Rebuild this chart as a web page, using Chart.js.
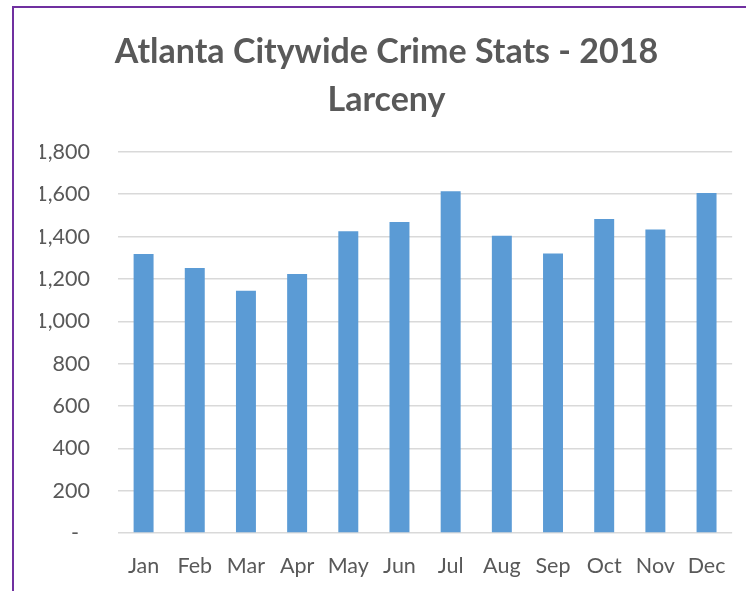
<!DOCTYPE html>
<html>
<head>
<meta charset="utf-8">
<script src="https://cdn.jsdelivr.net/npm/chart.js@4/dist/chart.umd.min.js"></script>
<style>
  html, body { margin: 0; padding: 0; background: #fff; }
  #wrap { position: relative; width: 746px; height: 591px; overflow: hidden; }
  #frame { position: absolute; left: 12px; top: 6px; width: 900px; height: 900px;
           border-left: 2px solid #7030A0; border-top: 2px solid #7030A0; }
  #box { position: absolute; left: 0; top: 0; width: 746px; height: 591px; }
</style>
</head>
<body>
<div id="wrap">
  <div id="frame"></div>
  <div id="box"><canvas id="larcenyChart"></canvas></div>
</div>
<script>
// Data
const months = ['Jan', 'Feb', 'Mar', 'Apr', 'May', 'Jun', 'Jul', 'Aug', 'Sep', 'Oct', 'Nov', 'Dec'];
const larceny = [1318, 1251, 1144, 1223, 1425, 1469, 1614, 1404, 1320, 1483, 1433, 1606];
const titleLines = ['Atlanta Citywide Crime Stats - 2018', 'Larceny'];

const FONT = 'Lato, "Open Sans", sans-serif';
const TEXT = '#595959';

new Chart(document.getElementById('larcenyChart'), {
    type: 'bar',
    data: {
        labels: months,
        datasets: [{
            label: 'Larceny',
            data: larceny,
            backgroundColor: '#5B9BD5',
            borderWidth: 0,
            barPercentage: 0.39,
            categoryPercentage: 1
        }]
    },
    options: {
        responsive: true,
        maintainAspectRatio: false,
        animation: false,
        // padding kiri supaya judul berada di tengah bingkai ungu
        layout: { padding: { left: 40, right: 13, top: 0, bottom: 0 } },
        plugins: {
            legend: { display: false },
            tooltip: { enabled: false },
            title: {
                display: true,
                text: titleLines,
                color: TEXT,
                font: { family: FONT, size: 34, weight: 'bold', lineHeight: 1.41 },
                padding: { top: 28, bottom: 28 }
            }
        },
        scales: {
            x: {
                grid: { display: false, drawTicks: false },
                border: { display: false },
                ticks: { color: TEXT, font: { family: FONT, size: 21.5 }, padding: 20 },
                afterFit: (scale) => { scale.height = 58; }
            },
            y: {
                min: 0,
                max: 1800,
                grid: { color: '#d9d9d9', lineWidth: 1.5, drawTicks: false },
                border: { display: false },
                ticks: {
                    stepSize: 200,
                    color: TEXT,
                    font: { family: FONT, size: 21.5 },
                    padding: 28,
                    callback: (v) => v === 0 ? '-  ' : v.toLocaleString('en-US')
                },
                afterFit: (scale) => { scale.width = 78; }
            }
        }
    }
});
</script>
</body>
</html>
